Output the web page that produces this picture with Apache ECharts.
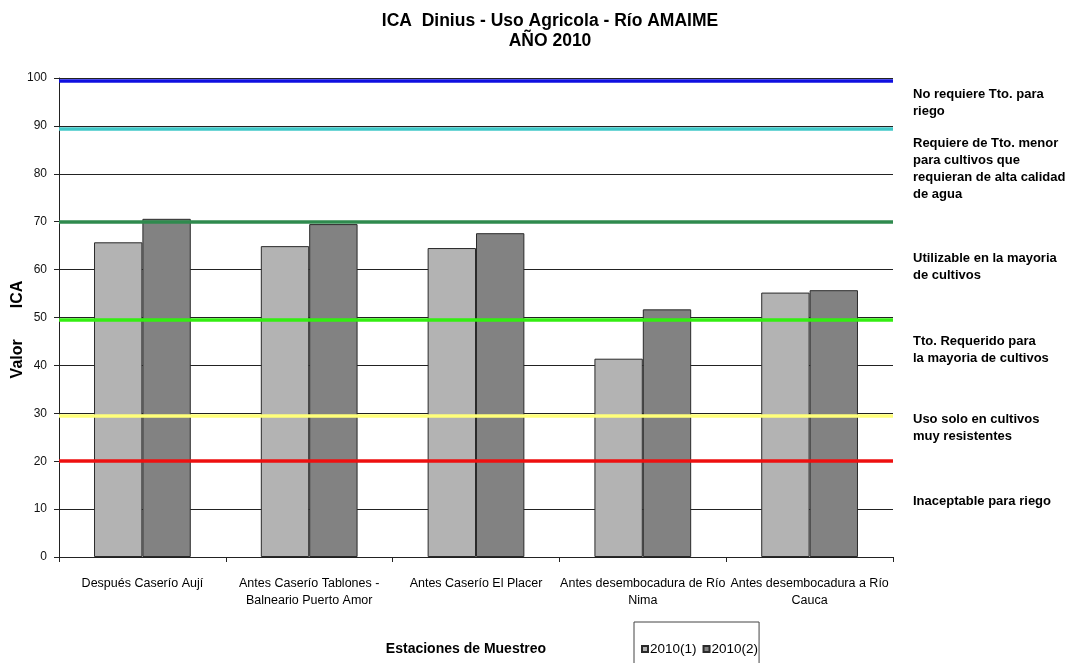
<!DOCTYPE html>
<html>
<head>
<meta charset="utf-8">
<script src="https://cdn.jsdelivr.net/npm/echarts@6/dist/echarts.min.js"></script>
<style>
  html, body { margin: 0; padding: 0; background: #fff; }
  #chart { width: 1065px; height: 663px; }
</style>
</head>
<body>
<div id="chart"></div>
<script>
// Sampling stations along the river
const stations = [
  'Después Caserío Aují',
  'Antes Caserío Tablones -\nBalneario Puerto Amor',
  'Antes Caserío El Placer',
  'Antes desembocadura de Río\nNima',
  'Antes desembocadura a Río\nCauca'
];

// ICA values for the two 2010 campaigns
const ica2010_1 = [65.7, 64.9, 64.5, 41.4, 55.2];
const ica2010_2 = [70.6, 69.5, 67.6, 51.7, 55.7];

// Quality class boundaries drawn as coloured reference lines
const thresholdValues = [99.5, 89.5, 70, 49.5, 29.5, 20];
const thresholdColors = ['#1010e0', '#40c8c8', '#2f8a4e', '#33ee11', '#ffff7a', '#ee1010'];

// Class descriptions shown to the right of the plot
const classLabels = [
  'No requiere Tto. para\nriego',
  'Requiere de Tto. menor\npara cultivos que\nrequieran de alta calidad\nde agua',
  'Utilizable en la mayoria\nde cultivos',
  'Tto. Requerido para\nla mayoria de cultivos',
  'Uso solo en cultivos\nmuy resistentes',
  'Inaceptable para riego'
];
const classLabelTops = [86, 135, 250, 333, 411, 493];

const FONT = '"Liberation Sans Narrow", "Arial Narrow", "Liberation Sans", Arial, sans-serif';
const FONT_W = '"Liberation Sans", Arial, sans-serif';

const chart = echarts.init(document.getElementById('chart'), null, { renderer: 'canvas' });

const option = {
  backgroundColor: '#fff',
  animation: false,
  title: {
    text: 'ICA  Dinius - Uso Agricola - Río AMAIME\nAÑO 2010',
    left: 545,
    textAlign: 'center',
    top: 6,
    textStyle: { fontFamily: FONT_W, fontWeight: 'bold', fontSize: 17.5, lineHeight: 20, color: '#000' }
  },
  legend: {
    left: 634,
    top: 622,
    data: ['2010(1)', '2010(2)'],
    itemWidth: 6,
    itemHeight: 6,
    itemGap: 6,
    icon: 'rect',
    padding: [20, 1, 20, 7],
    borderColor: '#444',
    borderWidth: 1,
    textStyle: { fontFamily: FONT, fontSize: 13.5, color: '#000', padding: [0, 0, 0, -3] }
  },
  grid: { left: 59, right: 172, top: 78, bottom: 106, outerBoundsMode: 'none', containLabel: false },
  xAxis: {
    type: 'category',
    data: stations,
    name: 'Estaciones de Muestreo',
    nameLocation: 'middle',
    nameGap: 85,
    nameMoveOverlap: false,
    nameTextStyle: { fontFamily: FONT, fontWeight: 'bold', fontSize: 14, color: '#000', padding: [0, 20, 0, 0] },
    axisLine: { lineStyle: { color: '#222', width: 1 } },
    axisTick: { show: true, alignWithLabel: false, length: 5, lineStyle: { color: '#222' } },
    axisLabel: { fontFamily: FONT, fontSize: 12.5, color: '#000', margin: 18, lineHeight: 17, interval: 0 }
  },
  yAxis: {
    type: 'value',
    min: 0,
    max: 100,
    interval: 10,
    name: 'Valor       ICA',
    nameLocation: 'middle',
    nameRotate: 90,
    nameGap: 33,
    nameMoveOverlap: false,
    nameTextStyle: { fontFamily: FONT_W, fontWeight: 'bold', fontSize: 16, color: '#000', padding: [0, 24, 0, 0] },
    axisLine: { show: true, lineStyle: { color: '#222', width: 1 } },
    axisTick: { show: true, length: 5, lineStyle: { color: '#222' } },
    axisLabel: { fontFamily: FONT, fontSize: 12, color: '#111', margin: 12 },
    splitLine: { show: true, lineStyle: { color: '#222', width: 1 } }
  },
  series: [
    {
      name: '2010(1)',
      type: 'bar',
      data: ica2010_1,
      barGap: '0%',
      barCategoryGap: '42%',
      itemStyle: { color: '#b3b3b3', borderColor: '#2a2a2a', borderWidth: 1 },
      markLine: {
        silent: true,
        symbol: 'none',
        label: { show: false },
        data: thresholdValues.map((v, i) => ({
          yAxis: v,
          lineStyle: { color: thresholdColors[i], width: 3.5, type: 'solid' }
        })),
        z: 5
      }
    },
    {
      name: '2010(2)',
      type: 'bar',
      data: ica2010_2,
      itemStyle: { color: '#828282', borderColor: '#2a2a2a', borderWidth: 1 }
    }
  ],
  graphic: classLabels.map((t, i) => ({
    type: 'text',
    left: 913,
    top: classLabelTops[i],
    style: {
      text: t,
      fontFamily: FONT,
      fontWeight: 'bold',
      fontSize: 13,
      lineHeight: 17,
      fill: '#000'
    }
  }))
};

chart.setOption(option);
</script>
</body>
</html>
